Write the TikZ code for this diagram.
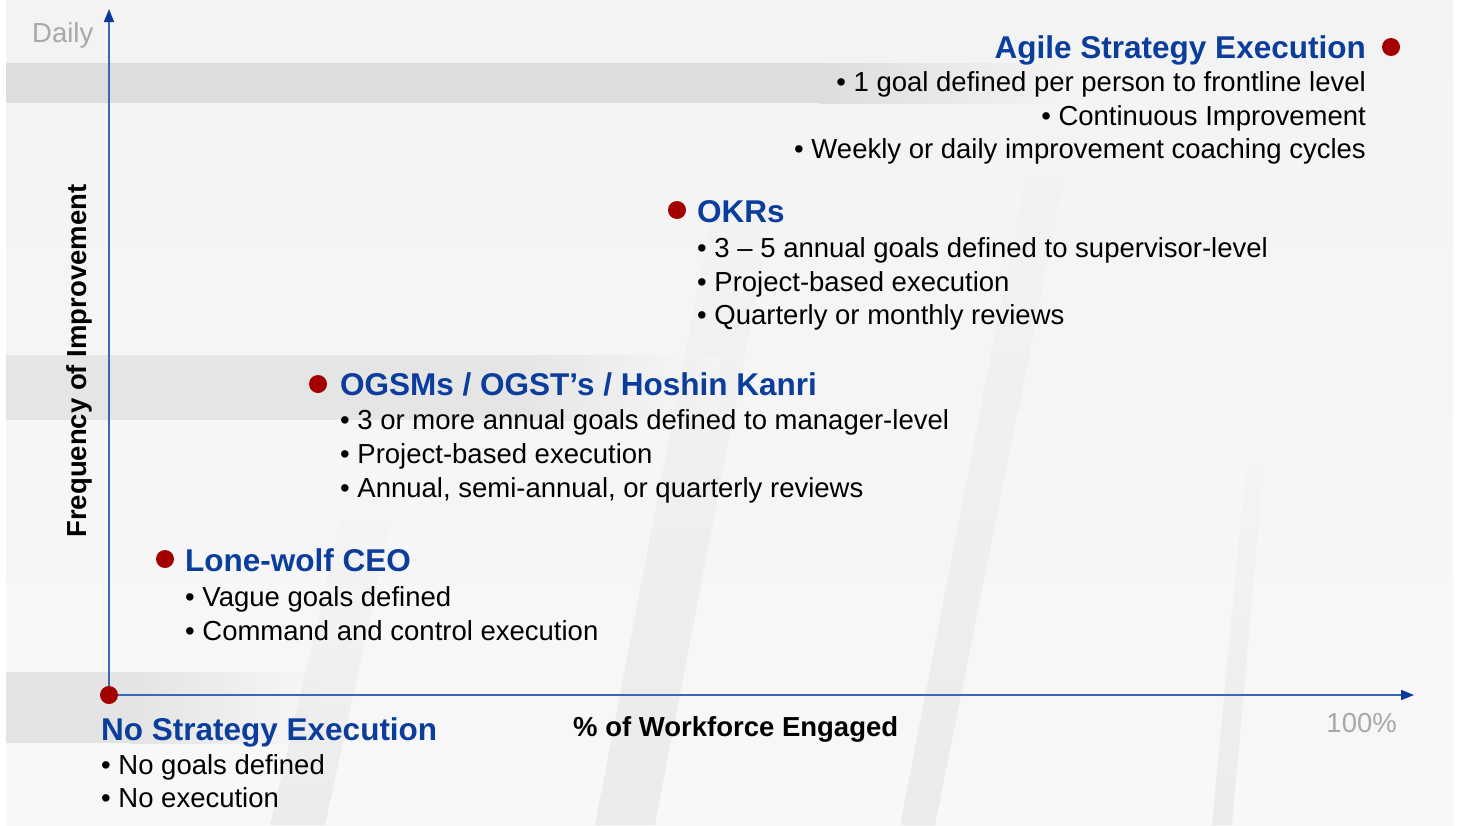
\documentclass[tikz,border=0pt]{standalone}
\usepackage{fontspec}
\setmainfont{Liberation Sans}
\usetikzlibrary{arrows.meta,fadings}

\definecolor{headblue}{HTML}{0B3D9C}
\definecolor{axisblue}{HTML}{3F66B5}
\definecolor{axisdark}{HTML}{0A3A9E}
\definecolor{dotred}{HTML}{A30000}
\definecolor{labelgray}{HTML}{A8A8A8}
\definecolor{bgtop}{HTML}{F3F3F3}
\definecolor{bgbot}{HTML}{F8F8F8}
\definecolor{band}{HTML}{DDDDDD}

\tikzset{
  heading/.style={font=\fontsize{31.5}{36}\selectfont\bfseries, text=headblue, inner sep=0pt},
  item/.style={font=\fontsize{27.5}{33}\selectfont, text=black, inner sep=0pt},
  axislabel/.style={font=\fontsize{27.5}{33}\selectfont\bfseries, text=black, inner sep=0pt},
  endlabel/.style={font=\fontsize{27.5}{33}\selectfont, text=labelgray, inner sep=0pt},
  marker/.style={circle, fill=dotred, minimum size=18pt, inner sep=0pt},
  axis/.style={draw=axisblue, line width=1.6pt,
    -{Triangle[length=13pt,width=10pt,color=axisdark]}},
  stripe/.style={fill=black, fill opacity=0.05, path fading=north},
}

\begin{document}
\begin{tikzpicture}[x=1pt,y=-1pt]
\useasboundingbox (0,0) rectangle (1459,825);

% backdrop
\fill[white] (0,0) rectangle (1459,825);
\shade[top color=bgtop, bottom color=bgbot] (6,0) rectangle (1453,825);

% horizontal bands
\fill[band] (6,63) rectangle (820,103);
\shade[left color=band, right color=bgtop] (820,63) rectangle (1060,103);
\fill[band!70!bgbot] (6,355) rectangle (520,420);
\shade[left color=band!70!bgbot, right color=bgbot] (520,355) rectangle (720,420);
\fill[band!75!bgbot] (6,672) rectangle (130,743);
\shade[left color=band!75!bgbot, right color=bgbot] (130,672) rectangle (330,743);

% slanted stripes, fading out towards the top
\fill[stripe] (1040,100) -- (1080,100) -- (935,825) -- (900,825) -- cycle;
\fill[stripe] (730,120) -- (790,120) -- (655,825) -- (595,825) -- cycle;
\fill[stripe] (350,480) -- (400,480) -- (325,825) -- (270,825) -- cycle;
\fill[stripe] (1250,420) -- (1268,420) -- (1232,825) -- (1212,825) -- cycle;

% axes
\coordinate (orig) at (109,695);
\coordinate (ytip) at (109,9);
\coordinate (xtip) at (1414,695);
\draw[axis] (orig) -- (ytip);
\draw[axis] (orig) -- (xtip);
\node[marker] (dot0) at (orig) {};

\node[endlabel, anchor=base west] (daily) at (32,42) {Daily};
\node[endlabel, anchor=base east] (full) at (1397,732) {100\%};
\node[axislabel, anchor=base west] (xlab) at (573,736) {\% of Workforce Engaged};
\node[axislabel, rotate=90] (ylab) at (79,361) {Frequency of Improvement};

% No Strategy Execution
\node[heading, anchor=base west] (none) at (101,740) {No Strategy Execution};
\node[item, anchor=base west] (none1) at (101,774) {\textbullet\ No goals defined};
\node[item, anchor=base west] (none2) at (101,807) {\textbullet\ No execution};

% Lone-wolf CEO
\node[marker] (dot1) at (165,559) {};
\node[heading, anchor=base west] (lone) at (185,571) {Lone-wolf CEO};
\node[item, anchor=base west] (lone1) at (185,606) {\textbullet\ Vague goals defined};
\node[item, anchor=base west] (lone2) at (185,640) {\textbullet\ Command and control execution};

% OGSMs
\node[marker] (dot2) at (318,384) {};
\node[heading, anchor=base west] (ogsm) at (340,395) {OGSMs / OGST’s / Hoshin Kanri};
\node[item, anchor=base west] (ogsm1) at (340,429) {\textbullet\ 3 or more annual goals defined to manager-level};
\node[item, anchor=base west] (ogsm2) at (340,463) {\textbullet\ Project-based execution};
\node[item, anchor=base west] (ogsm3) at (340,497) {\textbullet\ Annual, semi-annual, or quarterly reviews};

% OKRs
\node[marker] (dot3) at (677,210) {};
\node[heading, anchor=base west] (okr) at (697,222) {OKRs};
\node[item, anchor=base west] (okr1) at (697,257) {\textbullet\ 3 \textendash\ 5 annual goals defined to supervisor-level};
\node[item, anchor=base west] (okr2) at (697,291) {\textbullet\ Project-based execution};
\node[item, anchor=base west] (okr3) at (697,324) {\textbullet\ Quarterly or monthly reviews};

% Agile Strategy Execution
\node[marker] (dot4) at (1391,47) {};
\node[heading, anchor=base east] (agile) at (1366,58) {Agile Strategy Execution};
\node[item, anchor=base east] (agile1) at (1366,91) {\textbullet\ 1 goal defined per person to frontline level};
\node[item, anchor=base east] (agile2) at (1366,125) {\textbullet\ Continuous Improvement};
\node[item, anchor=base east] (agile3) at (1366,158) {\textbullet\ Weekly or daily improvement coaching cycles};
\end{tikzpicture}
\end{document}
